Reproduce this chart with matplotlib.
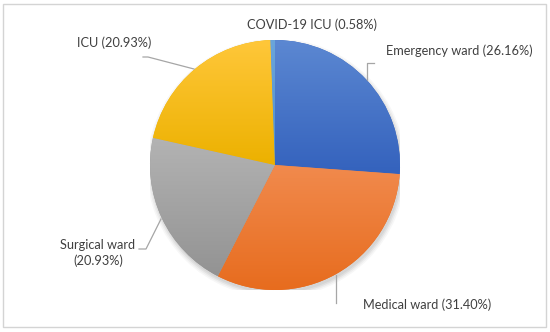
import matplotlib.pyplot as plt
import numpy as np
from matplotlib.colors import LinearSegmentedColormap
from matplotlib.patches import Rectangle, Circle

# data
wards = ["Emergency ward", "Medical ward", "Surgical ward", "ICU", "COVID-19 ICU"]
shares = [26.16, 31.40, 20.93, 20.93, 0.58]
# light (top) -> dark (bottom) shading per slice
top_colors = ["#5C88D2", "#F18A4D", "#B3B3B3", "#FFC73A", "#6AA5DB"]
bottom_colors = ["#3462BD", "#E76C1E", "#939393", "#ECB100", "#4F90CC"]
labels = [
    "Emergency ward (26.16%)",
    "Medical ward (31.40%)",
    "Surgical ward\n(20.93%)",
    "ICU (20.93%)",
    "COVID-19 ICU (0.58%)",
]

W, H = 550, 332
fig = plt.figure(figsize=(W / 100, H / 100), dpi=100)
fig.patch.set_facecolor("white")

# outer frame
fig.add_artist(Rectangle((3 / W, 5 / H), 543 / W, 323 / H, transform=fig.transFigure,
                         fill=False, edgecolor="#D4D4D4", linewidth=1.0))

cx, cy, r = 275, 165, 125
ax = fig.add_axes([(cx - r) / W, (H - cy - r) / H, 2 * r / W, 2 * r / H])
ax.set_xlim(-1, 1)
ax.set_ylim(-1, 1)
ax.set_aspect("equal")
ax.axis("off")

# soft shadow
for k, a in enumerate([0.05, 0.05, 0.04, 0.03]):
    ax.add_patch(Circle((0.01, -0.025), 1.0 + 0.012 * k, color="black", alpha=a,
                        linewidth=0, zorder=0))

wedges, _ = ax.pie(shares, startangle=90, counterclock=False, radius=1.0,
                   colors=bottom_colors, wedgeprops=dict(linewidth=0))

grad = np.linspace(0, 1, 256).reshape(-1, 1)
for w, c0, c1 in zip(wedges, top_colors, bottom_colors):
    cmap = LinearSegmentedColormap.from_list("g", [c0, c1])
    ext = w.get_path().get_extents()
    im = ax.imshow(grad, cmap=cmap, aspect="auto", origin="upper",
                   extent=[ext.x0, ext.x1, ext.y0, ext.y1], zorder=2)
    im.set_clip_path(w)
ax.set_xlim(-1, 1)
ax.set_ylim(-1, 1)

font = dict(family="Lato", fontsize=9.2, color="#404040")
line_kw = dict(color="#A6A6A6", linewidth=0.9, transform=fig.transFigure)


def px(x, y):
    return x / W, 1 - y / H


# label positions and leader lines (pixel space)
fig.text(*px(386, 51), labels[0], ha="left", va="center", **font)
fig.add_artist(plt.Line2D(*zip(px(367, 80), px(367, 63), px(374, 63)), **line_kw))

fig.text(*px(363, 305), labels[1], ha="left", va="center", **font)
fig.add_artist(plt.Line2D(*zip(px(336, 275), px(336, 303)), **line_kw))

fig.text(*px(98, 253), labels[2], ha="center", va="center", linespacing=1.35, **font)
fig.add_artist(plt.Line2D(*zip(px(161, 219), px(146, 249), px(139, 249)), **line_kw))

fig.text(*px(114, 43), labels[3], ha="center", va="center", **font)
fig.add_artist(plt.Line2D(*zip(px(194, 69), px(148, 57), px(143, 57)), **line_kw))

fig.text(*px(312, 25), labels[4], ha="center", va="center", **font)

fig.savefig("out.png", dpi=100, facecolor="white")
